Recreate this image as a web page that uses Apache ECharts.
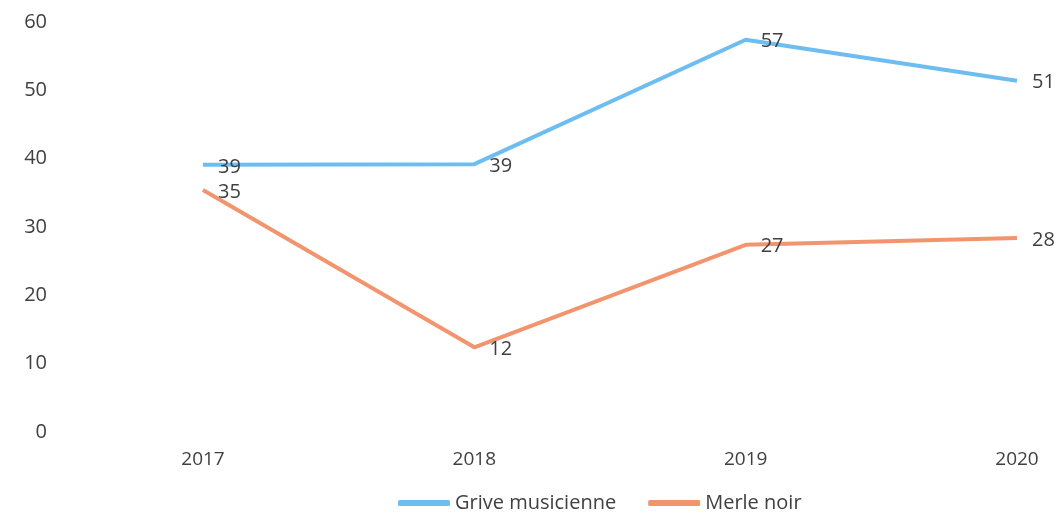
<!DOCTYPE html>
<html><head><meta charset="utf-8">
<script src="https://cdn.jsdelivr.net/npm/echarts@6/dist/echarts.min.js"></script>
<style>html,body{margin:0;padding:0;background:#fff}#c{width:1059px;height:520px}</style>
</head><body><div id="c"></div>
<script>
const categories = ['2017', '2018', '2019', '2020'];
const griveMusicienne = [39.1, 39.2, 57.4, 51.4];
const merleNoir = [35.4, 12.4, 27.4, 28.4];
const seriesNames = ['Grive musicienne', 'Merle noir'];
const yTicks = { min: 0, max: 60, interval: 10 };

const font = '"Open Sans", "Noto Sans", sans-serif';
const chart = echarts.init(document.getElementById('c'));
const lbl = {
  show: true, position: 'right', distance: 15, offset: [0, 2],
  fontFamily: font, fontSize: 20, color: '#404040',
  formatter: p => Math.round(p.value)
};
chart.setOption({
  animation: false,
  grid: { left: 203, right: 42, top: 22, bottom: 88 },
  xAxis: {
    type: 'category', data: categories, boundaryGap: false,
    axisLine: { show: false }, axisTick: { show: false },
    axisLabel: { fontFamily: font, fontSize: 19, color: '#404040', margin: 18 }
  },
  yAxis: {
    type: 'value', min: yTicks.min, max: yTicks.max, interval: yTicks.interval,
    splitLine: { show: false }, axisLine: { show: false }, axisTick: { show: false },
    axisLabel: { fontFamily: font, fontSize: 20, color: '#404040', margin: 156, align: 'right' }
  },
  legend: {
    bottom: 2, left: 393, itemWidth: 52, itemHeight: 6, itemGap: 32,
    icon: 'roundRect',
    textStyle: { fontFamily: font, fontSize: 20, color: '#404040' },
    data: seriesNames
  },
  series: [
    { name: seriesNames[0], type: 'line', data: griveMusicienne, symbol: 'circle', symbolSize: 0,
      lineStyle: { width: 4, color: '#6dbdf0' }, itemStyle: { color: '#6dbdf0' }, label: lbl },
    { name: seriesNames[1], type: 'line', data: merleNoir, symbol: 'circle', symbolSize: 0,
      lineStyle: { width: 4, color: '#f2956f' }, itemStyle: { color: '#f2956f' }, label: lbl }
  ]
});
</script></body></html>
